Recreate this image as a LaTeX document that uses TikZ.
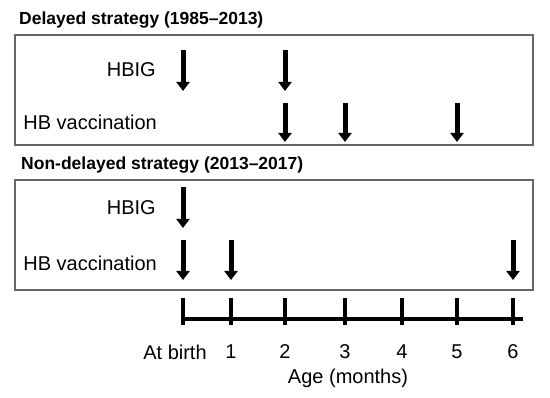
\documentclass[tikz,border=0pt]{standalone}
\usepackage{fontspec}
\setmainfont{Liberation Sans}
\usetikzlibrary{arrows.meta}

\tikzset{
  dose/.style={line width=5pt,-{Triangle[width=13pt,length=9pt]}},
  panel/.style={draw=black!60,line width=1.2pt},
  lbl/.style={font=\fontsize{20}{24}\selectfont,inner sep=0pt},
  ttl/.style={font=\fontsize{17.5}{21}\selectfont\bfseries,inner sep=0pt,anchor=west}
}

\begin{document}
\begin{tikzpicture}[x=1pt,y=-1pt]
\useasboundingbox (0,0) rectangle (550,398);
% panels
\draw[panel] (15,35) rectangle (533,145);
\draw[panel] (15,180) rectangle (533,290);
\node[ttl] (ttldel) at (19,20) {Delayed strategy (1985--2013)};
\node[ttl] (ttlnon) at (21,165) {Non-delayed strategy (2013--2017)};
\node[lbl,anchor=east] (hbigdel) at (156,70) {HBIG};
\node[lbl,anchor=east] (vacdel) at (157,122) {HB vaccination};
\node[lbl,anchor=east] (hbignon) at (156,208) {HBIG};
\node[lbl,anchor=east] (vacnon) at (157,263) {HB vaccination};
% time axis
\foreach \m/\x in {0/183,1/231,2/285,3/345,4/402,5/457,6/513}
  \coordinate (m\m) at (\x,319);
\coordinate (axend) at (523,319);
\draw[line width=3.5pt] (m0) -- (axend);
\foreach \m in {0,...,6}
  \draw[line width=3.5pt] (m\m |- 0,298) -- (m\m |- 0,325);
\node[lbl] (lbirth) at (175,352) {At birth};
\foreach \m in {1,...,6}
  \node[lbl] (l\m) at (m\m |- 0,352) {\m};
\node[lbl] (lage) at (348,378) {Age (months)};
% delayed doses
\foreach \m in {0,2}
  \draw[dose] (m\m |- 0,50) -- (m\m |- 0,91);
\foreach \m in {2,3,5}
  \draw[dose] (m\m |- 0,103) -- (m\m |- 0,142);
% non-delayed doses
\draw[dose] (m0 |- 0,187) -- (m0 |- 0,228);
\foreach \m in {0,1,6}
  \draw[dose] (m\m |- 0,240) -- (m\m |- 0,280);
\end{tikzpicture}
\end{document}
